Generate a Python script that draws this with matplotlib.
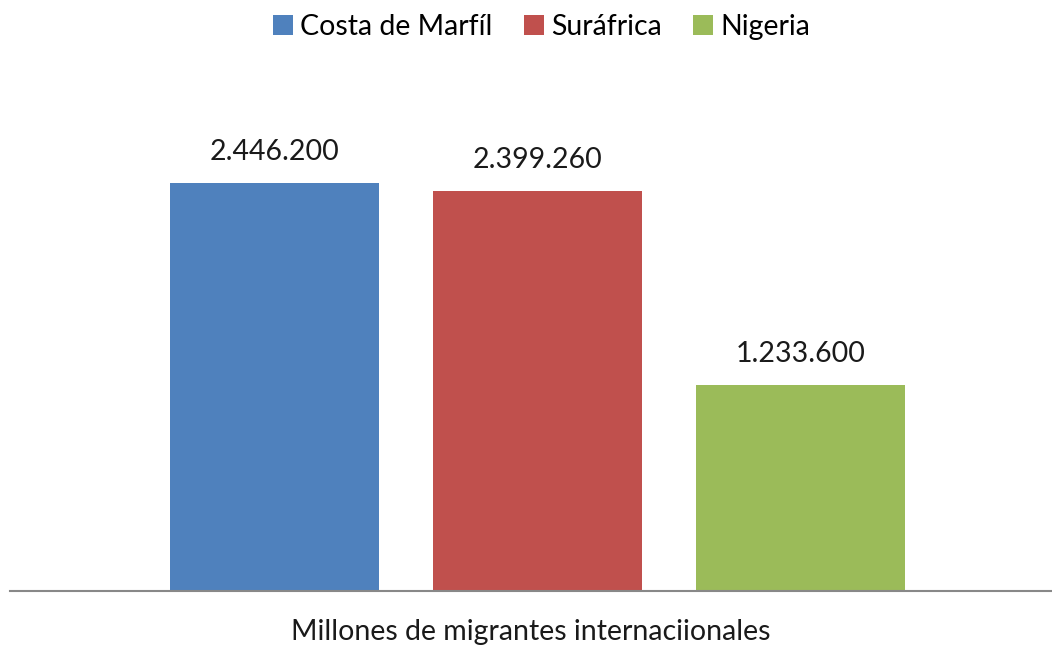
import matplotlib
matplotlib.use("Agg")
import matplotlib.pyplot as plt

countries = ["Costa de Marfíl", "Suráfrica", "Nigeria"]
values = [2446200, 2399260, 1233600]
labels = ["2.446.200", "2.399.260", "1.233.600"]
colors = ["#4F81BD", "#C0504D", "#9BBB59"]
xlabel = "Millones de migrantes internaciionales"

plt.rcParams['font.family'] = ['Lato', 'DejaVu Sans']

fig = plt.figure(figsize=(10.52, 6.48), dpi=100)
ax = fig.add_axes([10/1052, (648-591)/648, 1 - 10/1052, (591-80)/648])

offsets = [-1, 0, 1]
width = 209/263
for off, v, lab, c, name in zip(offsets, values, labels, colors, countries):
    ax.bar(off, v, width=width, color=c, label=name)
    ax.annotate(lab, (off, v), xytext=(0, 13), textcoords="offset points",
                ha="center", va="bottom", fontsize=20.5, color="#1a1a1a")

ax.set_xlim((10-537.5)/263, (1052-537.5)/263)
ax.set_ylim(0, (591-80)/408*values[0])
for s in ["top", "right", "left"]:
    ax.spines[s].set_visible(False)
ax.spines["bottom"].set_color("#888888")
ax.spines["bottom"].set_linewidth(1.5)
ax.set_xticks([])
ax.set_yticks([])
ax.set_xlabel(xlabel, fontsize=20.5, color="#1a1a1a", labelpad=20)

fig.legend(loc="upper center", bbox_to_anchor=(0.515, 1.018), ncol=3, frameon=False,
           fontsize=20.5, handlelength=0.7, handleheight=0.7, handletextpad=0.25,
           columnspacing=1.1)

fig.savefig("out.png", dpi=100)
